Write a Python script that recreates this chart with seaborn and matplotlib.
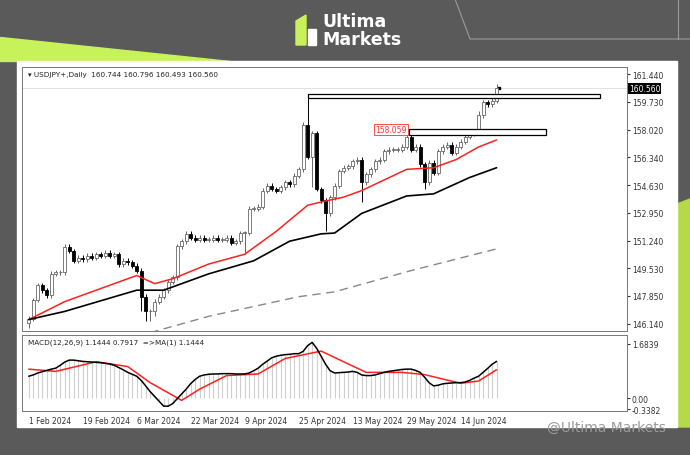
import numpy as np
import pandas as pd
import matplotlib
matplotlib.use("Agg")
import matplotlib.pyplot as plt
import seaborn as sns
from matplotlib.patches import Rectangle, Polygon

# daily closes, bar 0 = 1 Feb 2024
closes = [146.45, 147.6, 148.5, 148.2, 147.9, 149.2, 149.3, 149.3, 150.85, 150.6,
          150.0, 150.2, 150.1, 150.3, 150.2, 150.4, 150.3, 150.5, 150.3, 150.4,
          149.8, 150.0, 149.9, 149.7, 149.4, 147.8, 146.9, 146.9, 147.5, 147.8,
          148.2, 148.7, 149.0, 150.9, 151.2, 151.65, 151.4, 151.3, 151.4, 151.3,
          151.3, 151.4, 151.3, 151.3, 151.4, 151.1, 151.2, 151.7, 151.7, 153.2,
          153.2, 153.3, 154.3, 154.6, 154.4, 154.3, 154.5, 154.8, 154.7, 155.2,
          155.6, 158.3, 156.36, 157.8, 154.4, 153.7, 152.9, 153.9, 154.6, 155.5,
          155.7, 155.8, 156.1, 156.2, 154.8, 155.3, 155.6, 156.1, 156.2, 156.7,
          156.8, 156.8, 156.8, 157.0, 157.6, 156.8, 157.0, 155.9, 154.8, 156.0,
          155.4, 156.7, 157.0, 157.1, 156.6, 157.0, 157.3, 157.6, 157.8, 157.95,
          158.9, 159.7, 159.6, 159.8, 160.56]
first_open = 146.2
long_highs = {62: 160.2, 104: 160.8, 61: 158.5, 100: 159.2}
long_lows = {0: 145.9, 25: 146.9, 26: 146.3, 27: 146.3, 28: 146.6, 63: 154.5,
             66: 151.8, 48: 150.4, 74: 153.6, 88: 154.4, 31: 148.0}

red_ma = [(0, 146.4), (8, 147.5), (24, 149.1), (28, 148.6), (32, 148.9), (40, 149.8),
          (48, 150.4), (55, 151.8), (62, 153.4), (65, 153.6), (70, 153.9), (74, 154.3),
          (84, 155.6), (90, 155.7), (95, 156.2), (100, 156.97), (104, 157.4)]
black_ma = [(0, 146.4), (8, 146.9), (24, 148.2), (30, 148.2), (40, 149.2), (50, 150.0),
            (58, 151.2), (65, 151.65), (68, 151.7), (74, 152.9), (84, 153.97), (90, 154.1),
            (98, 155.1), (104, 155.7)]
gray_ma = [(27, 145.6), (40, 146.6), (60, 147.8), (68, 148.1), (85, 149.4), (104, 150.73)]

macd = [0.68, 0.72, 0.78, 0.82, 0.86, 0.90, 0.93, 1.02, 1.12, 1.18,
        1.18, 1.16, 1.14, 1.13, 1.12, 1.11, 1.10, 1.08, 1.06, 1.02,
        0.95, 0.88, 0.80, 0.74, 0.68, 0.55, 0.38, 0.20, 0.05, -0.10,
        -0.25, -0.25, -0.17, -0.02, 0.13, 0.28, 0.45, 0.58, 0.68, 0.72,
        0.74, 0.75, 0.75, 0.76, 0.76, 0.76, 0.75, 0.75, 0.75, 0.78,
        0.85, 0.93, 1.05, 1.15, 1.25, 1.30, 1.33, 1.35, 1.36, 1.38,
        1.38, 1.45, 1.63, 1.73, 1.55, 1.30, 1.05, 0.85, 0.78, 0.79,
        0.80, 0.81, 0.83, 0.80, 0.72, 0.70, 0.70, 0.72, 0.76, 0.80,
        0.83, 0.85, 0.87, 0.89, 0.90, 0.90, 0.86, 0.80, 0.65, 0.48,
        0.38, 0.40, 0.44, 0.46, 0.47, 0.48, 0.48, 0.50, 0.55, 0.62,
        0.68, 0.80, 0.92, 1.05, 1.14]
signal = [(0, 0.90), (6, 0.83), (15, 1.13), (22, 0.98), (27, 0.48), (34, -0.07),
          (38, 0.28), (44, 0.70), (51, 0.75), (57, 1.23), (65, 1.46), (70, 1.13),
          (75, 0.80), (83, 0.80), (88, 0.73), (96, 0.46), (100, 0.53), (104, 0.88)]

date_ticks = [0, 12, 24, 36, 48, 60, 72, 84, 96]
date_labels = ["1 Feb 2024", "19 Feb 2024", "6 Mar 2024", "22 Mar 2024", "9 Apr 2024",
               "25 Apr 2024", "13 May 2024", "29 May 2024", "14 Jun 2024"]
price_ticks = [161.44, 159.73, 158.02, 156.34, 154.63, 152.95, 151.24, 149.53, 147.85, 146.14]

W, H = 690, 456
fig = plt.figure(figsize=(6.9, 4.56), dpi=100)
fig.patch.set_facecolor("#5a5a5a")
bg = fig.add_axes([0, 0, 1, 1])
bg.set_xlim(0, W)
bg.set_ylim(H, 0)
bg.axis("off")
lime = "#c8f25a"
bg.add_patch(Polygon([(0, 38), (0, 62), (230, 62)], color=lime))
bg.add_patch(Polygon([(677, 205), (690, 200), (690, 428), (677, 428)], color="#b6d94a"))
bg.plot([455, 470, 690], [0, 40, 40], color="#9a9a9a", lw=0.8)
bg.plot([678, 678], [0, 40], color="#9a9a9a", lw=0.8)
bg.add_patch(Rectangle((17, 62), 660, 366, color="white"))
bg.add_patch(Polygon([(296, 22), (306, 16), (306, 46), (296, 46)], color=lime))
bg.add_patch(Polygon([(308, 30), (316, 30), (316, 46), (308, 46)], color="white"))
bg.text(322, 31, "Ultima", color="white", fontsize=12.5, fontweight="bold", va="bottom")
bg.text(322, 49, "Markets", color="white", fontsize=12.5, fontweight="bold", va="bottom")
bg.text(606, 428, "@Ultima Markets", color="#9a9a9a", fontsize=10, ha="center", va="center")

sns.set_style("white")
ax = fig.add_axes([22 / W, 1 - 332 / H, 605 / W, 264 / H])
ax2 = fig.add_axes([22 / W, 1 - 412 / H, 605 / W, 76 / H])

n = len(closes)
opens = [first_open] + closes[:-1]
for i in range(n):
    o, c = opens[i], closes[i]
    hi = long_highs.get(i, max(o, c) + 0.15)
    lo = long_lows.get(i, min(o, c) - 0.15)
    up = c >= o
    ax.vlines(i, lo, hi, color="#666666" if up else "black", lw=0.7, zorder=2)
    body = max(abs(c - o), 0.04)
    ax.add_patch(Rectangle((i - 0.33, min(o, c)), 0.66, body,
                           facecolor="white" if up else "black",
                           edgecolor="#666666" if up else "black", lw=0.6, zorder=3))

for pts, col, ls, lw in [(red_ma, "#ff2020", "-", 1.1), (black_ma, "black", "-", 1.2),
                         (gray_ma, "#888888", (0, (6, 4)), 1.0)]:
    d = pd.DataFrame(pts, columns=["bar", "price"])
    sns.lineplot(data=d, x="bar", y="price", ax=ax, color=col, lw=lw, linestyle=ls, zorder=4)

ax.add_patch(Rectangle((62, 159.95), 127 - 62, 0.25, facecolor="white", edgecolor="black", lw=0.9, zorder=5))
ax.add_patch(Rectangle((84.5, 157.7), 115 - 84.5, 0.37, facecolor="white", edgecolor="black", lw=0.9, zorder=5))
ax.text(84, 158.059, "158.059", color="#ff3030", fontsize=5.5, ha="right", va="center",
        bbox=dict(facecolor="white", edgecolor="#ff3030", lw=0.6, pad=0.8))
ax.axhline(160.56, color="#dddddd", lw=0.6, zorder=1)
ax.plot([104.6], [160.6], marker="s", color="black", ms=2)
ax.text(1.003, 160.56, "160.560", transform=ax.get_yaxis_transform(), color="white",
        fontsize=5.5, va="center", bbox=dict(facecolor="black", edgecolor="none", pad=0.8))
ax.text(0.01, 0.985, "\u25be USDJPY+,Daily  160.744 160.796 160.493 160.560", transform=ax.transAxes,
        fontsize=5.2, va="top", color="#222222")

ax.set_xlim(-1.5, 133)
ax.set_ylim(145.7, 161.87)
ax.yaxis.tick_right()
ax.set_yticks(price_ticks)
ax.set_yticklabels([f"{p:.3f}" for p in price_ticks])
ax.set_xticks([])
ax.set_xlabel("")
ax.set_ylabel("")

ax2.vlines(np.arange(n), 0, macd, color="#cfcfcf", lw=0.8, zorder=1)
sns.lineplot(x=np.arange(n), y=macd, ax=ax2, color="black", lw=1.1, zorder=3)
sd = pd.DataFrame(signal, columns=["bar", "v"])
sns.lineplot(data=sd, x="bar", y="v", ax=ax2, color="#ff2020", lw=1.1, zorder=2)
ax2.text(0.01, 0.95, "MACD(12,26,9) 1.1444 0.7917  =>MA(1) 1.1444", transform=ax2.transAxes,
         fontsize=5.2, va="top", color="#222222")
ax2.set_xlim(-1.5, 133)
ax2.set_ylim(-0.40, 1.96)
ax2.yaxis.tick_right()
ax2.set_yticks([1.6839, 0.0, -0.3382])
ax2.set_yticklabels(["1.6839", "0.00", "-0.3382"])
ax2.set_xticks(date_ticks)
ax2.set_xticklabels(date_labels, ha="left")
ax2.set_xlabel("")
ax2.set_ylabel("")

for a in (ax, ax2):
    a.tick_params(labelsize=5.5, length=2, pad=1.5, colors="#333333")
    for s in a.spines.values():
        s.set_color("#777777")
        s.set_linewidth(0.7)

fig.savefig("out.png", dpi=100, facecolor=fig.get_facecolor())
